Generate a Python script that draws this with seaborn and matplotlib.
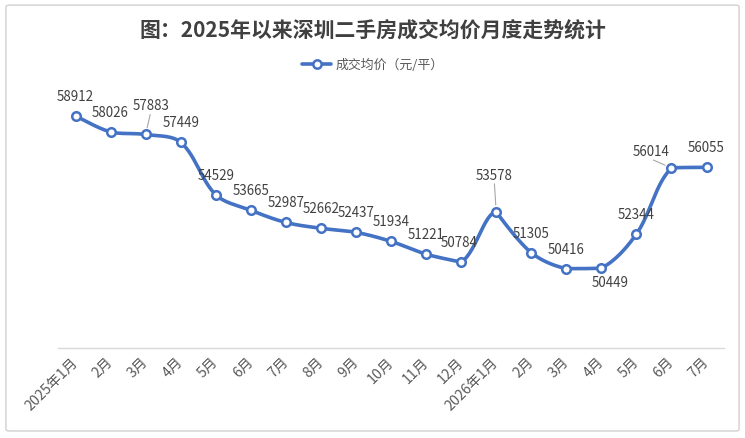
import numpy as np
import matplotlib
matplotlib.use('Agg')
import matplotlib.pyplot as plt
import seaborn as sns
from matplotlib.lines import Line2D
from matplotlib.patches import FancyBboxPatch

months = ['2025年1月', '2月', '3月', '4月', '5月', '6月', '7月', '8月', '9月', '10月', '11月', '12月',
          '2026年1月', '2月', '3月', '4月', '5月', '6月', '7月']
avg_price = [58912, 58026, 57883, 57449, 54529, 53665, 52987, 52662, 52437, 51934, 51221, 50784,
             53578, 51305, 50416, 50449, 52344, 56014, 56055]
series_name = '成交均价（元/平）'
title = '图：2025年以来深圳二手房成交均价月度走势统计'

# data label offsets in pixels (dx, dy); most labels sit straight above the point
label_off = {2: (5, 29), 11: (-2, 20), 12: (-2, 37), 15: (9, -14), 17: (-20, 17)}
leader_lines = [2, 12, 17]

BLUE = '#4472C4'
Y_MIN, Y_MAX = 46000, 60000


def clamp_ctrl(base, ctrl, lo, hi):
    # shorten a control handle so it does not overshoot the segment's y range
    v = ctrl - base
    if ctrl[1] > hi and v[1] != 0:
        v = v * (hi - base[1]) / v[1]
    elif ctrl[1] < lo and v[1] != 0:
        v = v * (lo - base[1]) / v[1]
    return base + v


def smooth_curve(xs, ys, sx=35.0, sy=0.01796, n=30):
    # excel-like smoothed line: bezier segments, tangents scaled by neighbour segment lengths
    xs = np.asarray(xs, float)
    ys = np.asarray(ys, float)
    px = np.concatenate([[xs[0]], xs, [xs[-1]]])
    py = np.concatenate([[ys[0]], ys, [ys[-1]]])
    P = np.column_stack([px * sx, py * sy])
    t = np.linspace(0, 1, n)
    out = []
    for i in range(len(xs) - 1):
        p0, p1, p2, p3 = P[i], P[i + 1], P[i + 2], P[i + 3]
        d01 = np.linalg.norm(p1 - p0)
        d12 = np.linalg.norm(p2 - p1)
        d23 = np.linalg.norm(p3 - p2)
        f1 = d12 / (d01 + d12) / 3 if d01 > 0 else 1 / 6
        f2 = d12 / (d12 + d23) / 3 if d23 > 0 else 1 / 6
        lo, hi = min(p1[1], p2[1]), max(p1[1], p2[1])
        c1 = clamp_ctrl(p1, p1 + (p2 - p0) * f1, lo, hi)
        c2 = clamp_ctrl(p2, p2 - (p3 - p1) * f2, lo, hi)
        pts = (((1 - t) ** 3)[:, None] * p1 + (3 * (1 - t) ** 2 * t)[:, None] * c1
               + (3 * (1 - t) * t ** 2)[:, None] * c2 + (t ** 3)[:, None] * p2)
        out.append(pts)
    out = np.vstack(out)
    return out[:, 0] / sx, out[:, 1] / sy


sns.set_theme(style='white')
plt.rcParams['font.family'] = ['Noto Sans CJK SC', 'DejaVu Sans']

fig = plt.figure(figsize=(7.45, 4.39), dpi=100)
ax = fig.add_axes([0.0779, 0.205, 0.894, 0.573])

x = np.arange(len(months))
cx, cy = smooth_curve(x, avg_price)
sns.lineplot(x=cx, y=cy, ax=ax, color=BLUE, linewidth=2.6, sort=False, zorder=2)
sns.scatterplot(x=x, y=avg_price, ax=ax, marker='o', s=38, facecolor='white',
                edgecolor=BLUE, linewidth=1.8, zorder=3)

for i, v in enumerate(avg_price):
    dx, dy = label_off.get(i, (0, 20))
    ax.annotate(str(v), (i, v), xytext=(dx, dy), textcoords='offset pixels',
                ha='center', va='center', fontsize=9.6, color='#404040', zorder=4)
    if i in leader_lines:
        # thin grey leader from label to point
        ax.annotate('', (i, v), xytext=(dx * 0.9, dy - 9 if dy > 0 else dy + 9),
                    textcoords='offset pixels',
                    arrowprops=dict(arrowstyle='-', color='#A6A6A6', lw=0.8, shrinkA=0, shrinkB=5))

ax.set_xlim(-0.5, len(months) - 0.5)
ax.set_ylim(Y_MIN, Y_MAX)
ax.set_xticks(x)
ax.set_xticklabels(months, rotation=45, ha='right', va='center', rotation_mode='anchor',
                   fontsize=10.2, color='#595959')
ax.tick_params(axis='x', length=0, pad=8)
ax.set_yticks([])
for s in ['top', 'left', 'right']:
    ax.spines[s].set_visible(False)
ax.spines['bottom'].set_color('#D9D9D9')
ax.spines['bottom'].set_linewidth(1)
ax.set_facecolor('white')

fig.text(0.5, 0.929, title, ha='center', va='center', fontsize=15, fontweight='bold', color='#404040')

handle = Line2D([], [], color=BLUE, linewidth=2.6, marker='o', markersize=6,
                markerfacecolor='white', markeredgecolor=BLUE, markeredgewidth=1.8)
fig.legend([handle], [series_name], loc='center', bbox_to_anchor=(0.5, 0.85), frameon=False,
           fontsize=9.3, labelcolor='#595959', handlelength=2.3, handletextpad=0.3)

fig.patches.append(FancyBboxPatch((0.008, 0.016), 0.984, 0.97,
                                  boxstyle='round,pad=0,rounding_size=0.004',
                                  transform=fig.transFigure, fill=False,
                                  edgecolor='#D0D0D0', linewidth=1))

plt.savefig('out.png', dpi=100, facecolor='white')
plt.close(fig)
